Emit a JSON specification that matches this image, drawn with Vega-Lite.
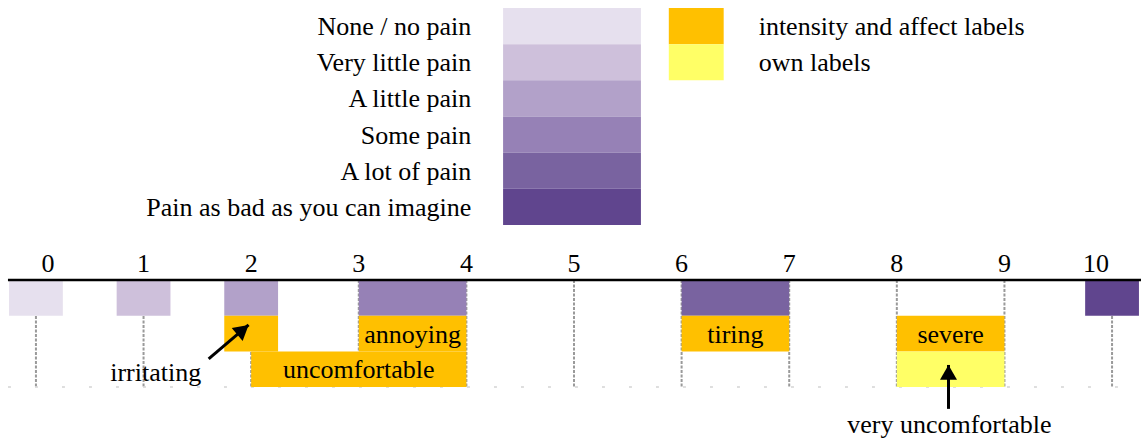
{
  "$schema": "https://vega.github.io/schema/vega-lite/v6.json",
  "width": 1143,
  "height": 441,
  "autosize": {"type": "fit", "contains": "padding"},
  "padding": 0,
  "background": "white",
  "config": {
    "view": {"stroke": null},
    "text": {"font": "Liberation Serif", "fontSize": 26, "fill": "black"}
  },
  "datasets": {
    "pain": [
      {"cat": "None / no pain", "rank": 0},
      {"cat": "Very little pain", "rank": 1},
      {"cat": "A little pain", "rank": 2},
      {"cat": "Some pain", "rank": 3},
      {"cat": "A lot of pain", "rank": 4},
      {"cat": "Pain as bad as you can imagine", "rank": 5}
    ],
    "kinds": [
      {"cat": "intensity and affect labels", "rank": 0},
      {"cat": "own labels", "rank": 1}
    ],
    "boxes": [
      {"start": -0.25, "end": 0.25, "row": 1, "cat": "None / no pain", "text": ""},
      {"start": 0.75, "end": 1.25, "row": 1, "cat": "Very little pain", "text": ""},
      {"start": 1.75, "end": 2.25, "row": 1, "cat": "A little pain", "text": ""},
      {"start": 3, "end": 4, "row": 1, "cat": "Some pain", "text": ""},
      {"start": 6, "end": 7, "row": 1, "cat": "A lot of pain", "text": ""},
      {"start": 9.75, "end": 10.25, "row": 1, "cat": "Pain as bad as you can imagine", "text": ""},
      {"start": 1.75, "end": 2.25, "row": 2, "cat": "intensity and affect labels", "text": ""},
      {"start": 2, "end": 4, "row": 3, "cat": "intensity and affect labels", "text": "uncomfortable"},
      {"start": 3, "end": 4, "row": 2, "cat": "intensity and affect labels", "text": "annoying"},
      {"start": 6, "end": 7, "row": 2, "cat": "intensity and affect labels", "text": "tiring"},
      {"start": 8, "end": 9, "row": 2, "cat": "intensity and affect labels", "text": "severe"},
      {"start": 8, "end": 9, "row": 3, "cat": "own labels", "text": ""}
    ],
    "ticks": [
      {"v": 0}, {"v": 1}, {"v": 2}, {"v": 3}, {"v": 4}, {"v": 5},
      {"v": 6}, {"v": 7}, {"v": 8}, {"v": 9}, {"v": 10}
    ],
    "notes": [
      {"x": 1.113, "y": 2.843, "text": "irritating"},
      {"x": 8.488, "y": 4.286, "text": "very uncomfortable"}
    ],
    "arrows": [
      {"x1": 1.605, "y1": 2.21, "x2": 1.976, "y2": 1.26},
      {"x1": 8.48, "y1": 3.61, "x2": 8.48, "y2": 2.38}
    ]
  },
  "layer": [
    {
      "layer": [
        {
          "data": {"name": "pain"},
          "transform": [{"calculate": "datum.rank + 1", "as": "rank2"}],
          "mark": {"type": "rect"},
          "encoding": {
            "x": {"datum": 4.341, "type": "quantitative", "scale": {"domain": [-0.334, 10.269], "nice": false, "zero": false}, "axis": null},
            "x2": {"datum": 5.622},
            "y": {"field": "rank", "type": "quantitative", "scale": {"domain": [-0.2212, 11.972], "reverse": true, "nice": false, "zero": false}, "axis": null},
            "y2": {"field": "rank2"},
            "color": {
              "field": "cat", "type": "nominal", "legend": null,
              "scale": {
                "domain": ["None / no pain", "Very little pain", "A little pain", "Some pain", "A lot of pain", "Pain as bad as you can imagine", "intensity and affect labels", "own labels"],
                "range": ["#e6e0ee", "#cec0db", "#b2a1c9", "#9681b6", "#7963a0", "#60458e", "#ffc000", "#ffff66"]
              }
            }
          }
        },
        {
          "data": {"name": "pain"},
          "transform": [{"calculate": "datum.rank + 0.5", "as": "rmid"}],
          "mark": {"type": "text", "align": "right", "baseline": "middle", "dy": 1},
          "encoding": {
            "x": {"datum": 4.045, "type": "quantitative", "scale": {"domain": [-0.334, 10.269], "nice": false, "zero": false}, "axis": null},
            "y": {"field": "rmid", "type": "quantitative", "scale": {"domain": [-0.2212, 11.972], "reverse": true, "nice": false, "zero": false}, "axis": null},
            "text": {"field": "cat"}
          }
        },
        {
          "data": {"name": "kinds"},
          "transform": [{"calculate": "datum.rank + 1", "as": "rank2"}],
          "mark": {"type": "rect"},
          "encoding": {
            "x": {"datum": 5.881, "type": "quantitative", "scale": {"domain": [-0.334, 10.269], "nice": false, "zero": false}, "axis": null},
            "x2": {"datum": 6.391},
            "y": {"field": "rank", "type": "quantitative", "scale": {"domain": [-0.2212, 11.972], "reverse": true, "nice": false, "zero": false}, "axis": null},
            "y2": {"field": "rank2"},
            "color": {
              "field": "cat", "type": "nominal", "legend": null,
              "scale": {
                "domain": ["None / no pain", "Very little pain", "A little pain", "Some pain", "A lot of pain", "Pain as bad as you can imagine", "intensity and affect labels", "own labels"],
                "range": ["#e6e0ee", "#cec0db", "#b2a1c9", "#9681b6", "#7963a0", "#60458e", "#ffc000", "#ffff66"]
              }
            }
          }
        },
        {
          "data": {"name": "kinds"},
          "transform": [{"calculate": "datum.rank + 0.5", "as": "rmid"}],
          "mark": {"type": "text", "align": "left", "baseline": "middle", "dy": 1},
          "encoding": {
            "x": {"datum": 6.716, "type": "quantitative", "scale": {"domain": [-0.334, 10.269], "nice": false, "zero": false}, "axis": null},
            "y": {"field": "rmid", "type": "quantitative", "scale": {"domain": [-0.2212, 11.972], "reverse": true, "nice": false, "zero": false}, "axis": null},
            "text": {"field": "cat"}
          }
        }
      ]
    },
    {
      "layer": [
        {
          "data": {"name": "ticks"},
          "mark": {"type": "rule", "color": "#9a9a9a", "strokeWidth": 2, "strokeDash": [3, 1.5]},
          "encoding": {
            "x": {"field": "v", "type": "quantitative", "scale": {"domain": [-0.334, 10.269], "nice": false, "zero": false}, "axis": null},
            "y": {"datum": 0, "type": "quantitative", "scale": {"domain": [-7.843, 4.51], "reverse": true, "nice": false, "zero": false}, "axis": null},
            "y2": {"datum": 3}
          }
        },
        {
          "data": {"values": [{}]},
          "mark": {"type": "rule", "color": "#d4d4d4", "strokeWidth": 1.5, "strokeDash": [3, 24]},
          "encoding": {
            "x": {"datum": -0.26, "type": "quantitative", "scale": {"domain": [-0.334, 10.269], "nice": false, "zero": false}, "axis": null},
            "x2": {"datum": 10.269},
            "y": {"datum": 3, "type": "quantitative", "scale": {"domain": [-7.843, 4.51], "reverse": true, "nice": false, "zero": false}, "axis": null}
          }
        },
        {
          "data": {"name": "boxes"},
          "transform": [{"calculate": "datum.row - 1", "as": "top"}],
          "mark": {"type": "rect"},
          "encoding": {
            "x": {"field": "start", "type": "quantitative", "scale": {"domain": [-0.334, 10.269], "nice": false, "zero": false}, "axis": null},
            "x2": {"field": "end"},
            "y": {"field": "top", "type": "quantitative", "scale": {"domain": [-7.843, 4.51], "reverse": true, "nice": false, "zero": false}, "axis": null},
            "y2": {"field": "row"},
            "color": {
              "field": "cat", "type": "nominal", "legend": null,
              "scale": {
                "domain": ["None / no pain", "Very little pain", "A little pain", "Some pain", "A lot of pain", "Pain as bad as you can imagine", "intensity and affect labels", "own labels"],
                "range": ["#e6e0ee", "#cec0db", "#b2a1c9", "#9681b6", "#7963a0", "#60458e", "#ffc000", "#ffff66"]
              }
            }
          }
        },
        {
          "data": {"values": [{}]},
          "mark": {"type": "rule", "color": "black", "strokeWidth": 2.5},
          "encoding": {
            "x": {"datum": -0.26, "type": "quantitative", "scale": {"domain": [-0.334, 10.269], "nice": false, "zero": false}, "axis": null},
            "x2": {"datum": 10.269},
            "y": {"datum": 0, "type": "quantitative", "scale": {"domain": [-7.843, 4.51], "reverse": true, "nice": false, "zero": false}, "axis": null}
          }
        },
        {
          "data": {"name": "boxes"},
          "transform": [
            {"filter": "datum.text != ''"},
            {"calculate": "(datum.start + datum.end) / 2", "as": "xm"},
            {"calculate": "datum.row - 0.5", "as": "ym"}
          ],
          "mark": {"type": "text", "align": "center", "baseline": "middle", "dy": 1},
          "encoding": {
            "x": {"field": "xm", "type": "quantitative", "scale": {"domain": [-0.334, 10.269], "nice": false, "zero": false}, "axis": null},
            "y": {"field": "ym", "type": "quantitative", "scale": {"domain": [-7.843, 4.51], "reverse": true, "nice": false, "zero": false}, "axis": null},
            "text": {"field": "text"}
          }
        },
        {
          "data": {"name": "ticks"},
          "mark": {"type": "text", "align": "center", "baseline": "alphabetic", "dx": {"expr": "datum.v === 0 ? 12 : (datum.v === 10 ? -16 : 0)"}},
          "encoding": {
            "x": {"field": "v", "type": "quantitative", "scale": {"domain": [-0.334, 10.269], "nice": false, "zero": false}, "axis": null},
            "y": {"datum": -0.224, "type": "quantitative", "scale": {"domain": [-7.843, 4.51], "reverse": true, "nice": false, "zero": false}, "axis": null},
            "text": {"field": "v", "type": "quantitative", "format": "d"}
          }
        },
        {
          "data": {"name": "notes"},
          "mark": {"type": "text", "align": "center", "baseline": "alphabetic"},
          "encoding": {
            "x": {"field": "x", "type": "quantitative", "scale": {"domain": [-0.334, 10.269], "nice": false, "zero": false}, "axis": null},
            "y": {"field": "y", "type": "quantitative", "scale": {"domain": [-7.843, 4.51], "reverse": true, "nice": false, "zero": false}, "axis": null},
            "text": {"field": "text"}
          }
        },
        {
          "data": {"name": "arrows"},
          "mark": {"type": "rule", "color": "black", "strokeWidth": 3},
          "encoding": {
            "x": {"field": "x1", "type": "quantitative", "scale": {"domain": [-0.334, 10.269], "nice": false, "zero": false}, "axis": null},
            "x2": {"field": "x2"},
            "y": {"field": "y1", "type": "quantitative", "scale": {"domain": [-7.843, 4.51], "reverse": true, "nice": false, "zero": false}, "axis": null},
            "y2": {"field": "y2"}
          }
        },
        {
          "data": {"name": "arrows"},
          "mark": {"type": "point", "shape": "M0,0L-1,1.75L1,1.75Z", "size": 289, "filled": true, "color": "black", "opacity": 1, "strokeWidth": 0, "angle": {"expr": "datum.x2 > datum.x1 ? 50 : 0"}},
          "encoding": {
            "x": {"field": "x2", "type": "quantitative", "scale": {"domain": [-0.334, 10.269], "nice": false, "zero": false}, "axis": null},
            "y": {"field": "y2", "type": "quantitative", "scale": {"domain": [-7.843, 4.51], "reverse": true, "nice": false, "zero": false}, "axis": null}
          }
        }
      ]
    }
  ],
  "resolve": {"scale": {"y": "independent"}}
}
